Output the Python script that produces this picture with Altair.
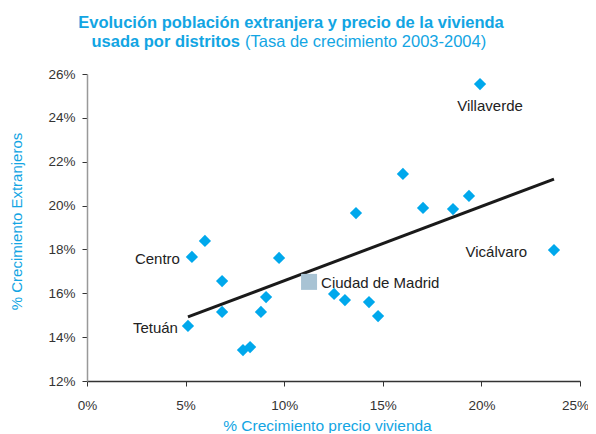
import altair as alt
import pandas as pd

# District data (% growth 2003-2004)
precio = [19.93, 23.68, 16.02, 13.64, 17.04, 18.56, 19.37, 5.32, 5.98, 6.85, 9.74,
          6.85, 5.12, 9.08, 8.82, 7.91, 8.27, 12.53, 13.08, 14.30, 14.76]
extranjeros = [25.54, 17.97, 21.44, 19.66, 19.89, 19.84, 20.44, 17.66, 18.39, 16.56, 17.61,
               15.15, 14.51, 15.83, 15.15, 13.41, 13.55, 15.97, 15.69, 15.60, 14.96]
nombres = ["Villaverde", "Vicálvaro", "", "", "", "", "", "Centro", "", "", "",
           "", "Tetuán", "", "", "", "", "", "", "", ""]

madrid_x = [11.26]
madrid_y = [16.52]
madrid_name = ["Ciudad de Madrid"]

trend_x = [5.12, 23.68]
trend_y = [14.92, 21.21]

x_ticks = [0, 5, 10, 15, 20, 25]
y_ticks = [12, 14, 16, 18, 20, 22, 24, 26]

title1 = "Evolución población extranjera y precio de la vivienda"
title2a = "usada por distritos"
title2b = "(Tasa de crecimiento 2003-2004)"

BLUE = "#12a5e3"
FONT = "Liberation Sans"

df = pd.DataFrame({"x": precio, "y": extranjeros, "name": nombres})
dm = pd.DataFrame({"x": madrid_x, "y": madrid_y, "name": madrid_name})
dt = pd.DataFrame({"x": trend_x, "y": trend_y})

xs = alt.Scale(domain=[0, 25], nice=False)
ys = alt.Scale(domain=[12, 26], nice=False)

xaxis = alt.Axis(values=x_ticks, labelExpr="datum.value + '%'", title="% Crecimiento precio vivienda",
                 grid=False, titleColor=BLUE, titleFont=FONT, titleFontSize=15.5, titleFontWeight="normal",
                 labelFont=FONT, labelFontSize=13.5, labelColor="#333333", domainColor="#333333",
                 domainWidth=1.5, tickColor="#333333", tickSize=5, labelPadding=12, titlePadding=7,
                 titleX=240, labelFlush=False,
                 labelOffset={"condition": {"test": "datum.value == 25", "value": -5}, "value": 0})
yaxis = alt.Axis(values=y_ticks, labelExpr="datum.value + '%'", title="% Crecimiento Extranjeros",
                 grid=False, titleColor=BLUE, titleFont=FONT, titleFontSize=15, titleFontWeight="normal",
                 labelFont=FONT, labelFontSize=13.5, labelColor="#333333", domainColor="#999999",
                 domainWidth=1.5, tickColor="#333333", tickSize=5, labelPadding=7, titlePadding=23,
                 titleY=147, labelFlush=False)

base = alt.Chart(df)

points = base.mark_point(shape="diamond", filled=True, size=150, color="#00a8ec", opacity=1).encode(
    x=alt.X("x:Q", scale=xs, axis=xaxis),
    y=alt.Y("y:Q", scale=ys, axis=yaxis),
)

trend = alt.Chart(dt).mark_line(color="#1a1a1a", strokeWidth=3).encode(
    x=alt.X("x:Q", scale=xs), y=alt.Y("y:Q", scale=ys))

madrid = alt.Chart(dm).mark_point(shape="square", filled=True, size=256, color="#a8c3d4", opacity=1).encode(
    x=alt.X("x:Q", scale=xs), y=alt.Y("y:Q", scale=ys))

def label(data, name, align, dx, dy):
    return alt.Chart(data).transform_filter(alt.datum.name == name).mark_text(
        align=align, baseline="middle", dx=dx, dy=dy, font=FONT, fontSize=15, color="#222222"
    ).encode(x=alt.X("x:Q", scale=xs), y=alt.Y("y:Q", scale=ys), text="name:N")

labels = [
    label(df, "Villaverde", "center", 10, 22),
    label(df, "Vicálvaro", "right", -27, 2),
    label(df, "Centro", "right", -12, 2),
    label(df, "Tetuán", "right", -10, 2),
    label(dm, "Ciudad de Madrid", "left", 12, 1),
]

tdf = pd.DataFrame({"t1": [title1], "t2a": [title2a], "t2b": [title2b]})
t1 = alt.Chart(tdf).mark_text(align="center", baseline="alphabetic", font=FONT, fontSize=16.5,
                              fontWeight="bold", color=BLUE).encode(
    x=alt.value(204), y=alt.value(-46), text="t1:N")
t2a = alt.Chart(tdf).mark_text(align="right", baseline="alphabetic", font=FONT, fontSize=16.5,
                               fontWeight="bold", color=BLUE).encode(
    x=alt.value(153), y=alt.value(-27), text="t2a:N")
t2b = alt.Chart(tdf).mark_text(align="left", baseline="alphabetic", font=FONT, fontSize=16.5,
                               fontWeight="normal", color=BLUE).encode(
    x=alt.value(158), y=alt.value(-27), text="t2b:N")

chart = alt.layer(trend, points, madrid, *labels, t1, t2a, t2b).properties(
    width=493, height=307,
    autosize=alt.AutoSizeParams(type="none"),
    padding={"left": 79, "top": 66, "right": 8, "bottom": 52},
).configure_view(stroke=None)

chart.save("out.html", embed_options={"renderer": "svg", "actions": False})
